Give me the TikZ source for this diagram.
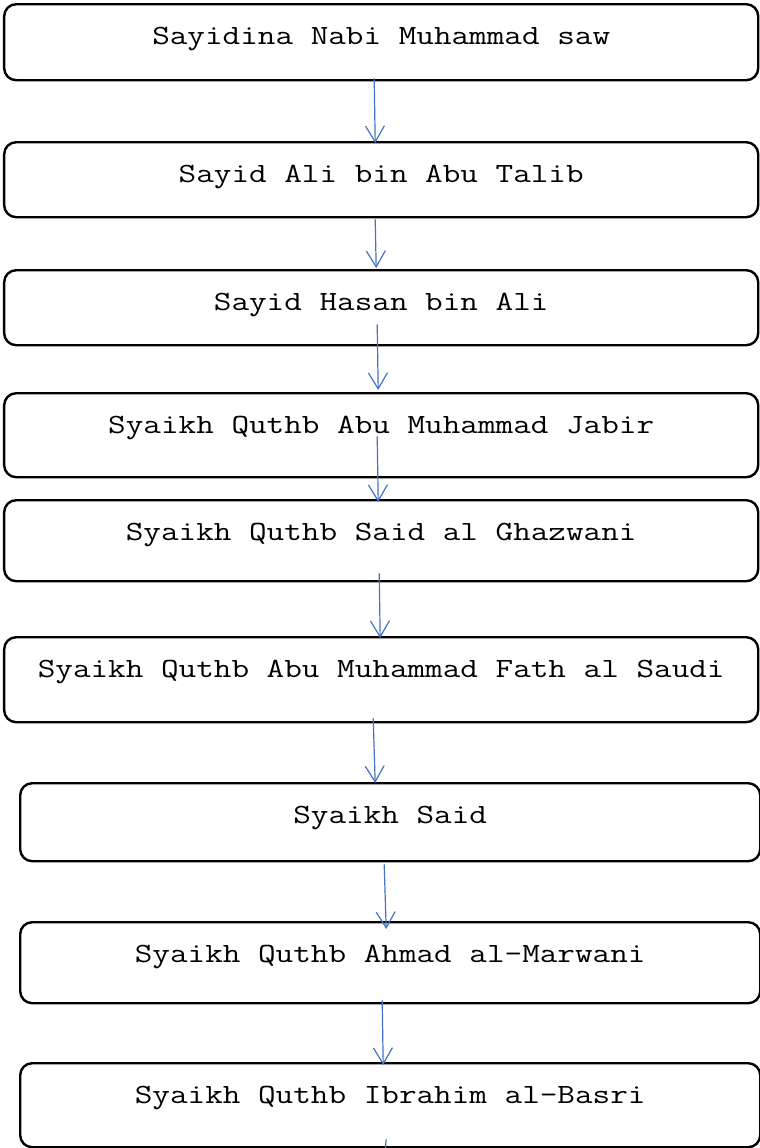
\documentclass[tikz,border=0pt]{standalone}
\usepackage{fontspec}
\newfontfamily\monofont[FakeStretch=1.23]{Latin Modern Mono}
\usetikzlibrary{arrows.meta,calc}
\definecolor{linkblue}{HTML}{4472C4}
\begin{document}
\begin{tikzpicture}[x=0.5pt,y=-0.5pt,
  stage/.style 2 args={draw=black, line width=1.2pt, rounded corners=6pt,
    anchor=north west, inner xsep=0pt, inner ysep=0pt,
    minimum width=#1, text height=20pt, text depth=#2,
    font=\monofont\fontsize{13.9}{17}\selectfont},
  link/.style={draw=linkblue, line width=0.6pt,
    -{Straight Barb[length=8pt,width=9.5pt]}},
  tailline/.style={draw=linkblue, line width=0.6pt}]
\useasboundingbox (0,0) rectangle (760,1148);

% lineage boxes, top to bottom
\node[stage={377pt}{18pt}]   (n1) at (3,3)     {Sayidina Nabi Muhammad saw};
\node[stage={377pt}{17.5pt}] (n2) at (3,141)   {Sayid Ali bin Abu Talib};
\node[stage={377pt}{17.5pt}] (n3) at (3,269)   {Sayid Hasan bin Ali};
\node[stage={377pt}{22pt}]   (n4) at (3,392)   {Syaikh Quthb Abu Muhammad Jabir};
\node[stage={377pt}{20.5pt}] (n5) at (3,499)   {Syaikh Quthb Said al Ghazwani};
\node[stage={377pt}{22.5pt}] (n6) at (3,636)   {Syaikh Quthb Abu Muhammad Fath al Saudi};
\node[stage={370pt}{19pt}]   (n7) at (19,782)  {Syaikh Said};
\node[stage={370pt}{20.5pt}] (n8) at (19,921)  {Syaikh Quthb Ahmad al-Marwani};
\node[stage={370pt}{22pt}]   (n9) at (19,1062) {Syaikh Quthb Ibrahim al-Basri};

% connectors
\draw[link] ($(n1.south)+(-7,-3)$)  -- ($(n2.north)+(-6,2)$);
\draw[link] ($(n2.south)+(-6,1)$)   -- ($(n3.north)+(-5,-1)$);
\draw[link] ($(n3.south)+(-4,-22)$) -- ($(n4.north)+(-3,-2)$);
\draw[link] ($(n4.south)+(-4,-42)$) -- ($(n5.north)+(-3,3)$);
\draw[link] ($(n5.south)+(-2,-9)$)  -- ($(n6.north)+(-1,2)$);
\draw[link] ($(n6.south)+(-8,-5)$)  -- ($(n7.north)+(-15,1)$);
\draw[link] ($(n7.south)+(-6,2)$)   -- ($(n8.north)+(-4,8)$);
\draw[link] ($(n8.south)+(-8,-4)$)  -- ($(n9.north)+(-7,3)$);
\coordinate (tail) at (385,1152);
\draw[tailline] ($(n9.south)+(-4,-9)$) -- (tail);
\end{tikzpicture}
\end{document}
